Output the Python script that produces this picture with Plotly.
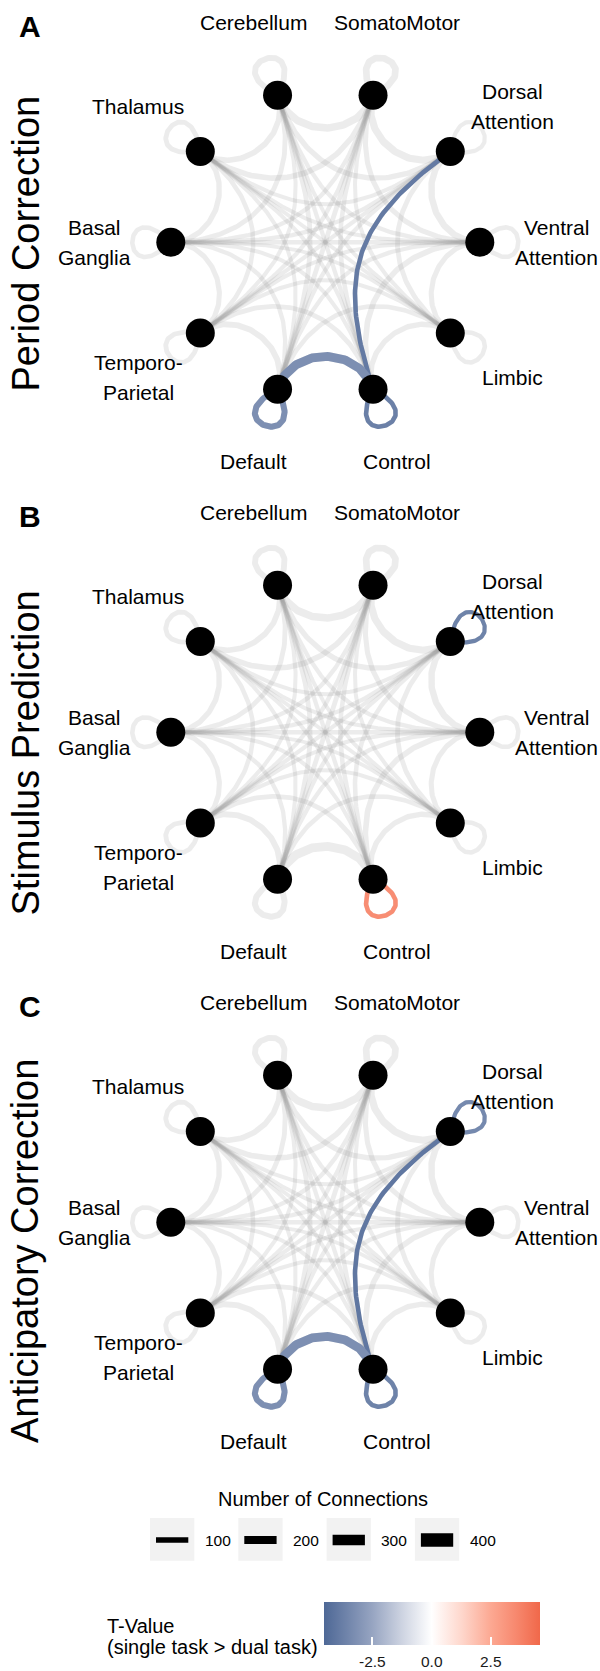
import numpy as np
import plotly.graph_objects as go
from plotly.colors import sample_colorscale

# ---------------- data ----------------
NODE_KEYS = ["Ventral", "Dorsal", "SomatoMotor", "Cerebellum", "Thalamus",
             "Basal", "Temporo", "Default", "Control", "Limbic"]
NODE_LABELS = ["Ventral\nAttention", "Dorsal\nAttention", "SomatoMotor", "Cerebellum", "Thalamus",
               "Basal\nGanglia", "Temporo-\nParietal", "Default", "Control", "Limbic"]

# background network: number of connections between networks
EDGE_FROM = ["Ventral", "Ventral", "Ventral", "Ventral", "Ventral", "Ventral", "Ventral", "Ventral", "Ventral",
             "Dorsal", "Dorsal", "Dorsal", "Dorsal", "Dorsal", "Dorsal", "Dorsal", "Dorsal",
             "SomatoMotor", "SomatoMotor", "SomatoMotor", "SomatoMotor", "SomatoMotor", "SomatoMotor", "SomatoMotor",
             "Cerebellum", "Cerebellum", "Cerebellum", "Cerebellum", "Cerebellum", "Cerebellum",
             "Thalamus", "Thalamus", "Thalamus", "Thalamus", "Thalamus",
             "Basal", "Basal", "Basal", "Basal",
             "Temporo", "Temporo", "Temporo",
             "Default", "Default",
             "Control"]
EDGE_TO = ["Dorsal", "SomatoMotor", "Cerebellum", "Thalamus", "Basal", "Temporo", "Default", "Control", "Limbic",
           "SomatoMotor", "Cerebellum", "Thalamus", "Basal", "Temporo", "Default", "Control", "Limbic",
           "Cerebellum", "Thalamus", "Basal", "Temporo", "Default", "Control", "Limbic",
           "Thalamus", "Basal", "Temporo", "Default", "Control", "Limbic",
           "Basal", "Temporo", "Default", "Control", "Limbic",
           "Temporo", "Default", "Control", "Limbic",
           "Default", "Control", "Limbic",
           "Control", "Limbic",
           "Limbic"]
EDGE_N = [140, 90, 60, 45, 70, 50, 60, 110, 90,
          170, 100, 50, 60, 55, 60, 70, 80,
          180, 110, 60, 60, 80, 70, 50,
          110, 80, 50, 80, 60, 45,
          100, 70, 50, 50, 40,
          90, 60, 50, 40,
          120, 80, 50,
          230, 70,
          100]
LOOP_N = [70, 55, 150, 120, 80, 70, 80, 125, 70, 70]

PANEL_TAGS = ["A", "B", "C"]
PANEL_TITLES = ["Period Correction", "Stimulus Prediction", "Anticipatory Correction"]

# significant edges (T-value: single task > dual task)
SIG_FROM = [["Dorsal", "Default", "Default", "Control"],
            ["Dorsal", "Control"],
            ["Dorsal", "Default", "Default", "Control", "Dorsal"]]
SIG_TO = [["Control", "Control", "Default", "Control"],
          ["Dorsal", "Control"],
          ["Control", "Control", "Default", "Control", "Dorsal"]]
SIG_T = [[-3.9, -3.2, -3.2, -3.7],
         [-3.6, 3.4],
         [-4.0, -3.2, -3.2, -3.6, -3.4]]

WIDTH_BREAKS = [100, 200, 300, 400]
T_TICKS = [-2.5, 0.0, 2.5]
T_TICK_TEXT = ["-2.5", "0.0", "2.5"]
T_MIN, T_MAX = -4.52, 4.56

# ---------------- style / geometry ----------------
W, H = 600, 1671
PANEL_H = 490
CX, CY = 325.3, 242.2       # circle centre inside each panel (px)
RPX = 154.5                 # circle radius (px) = 1 data unit
LABEL_R = 231 / RPX
LOOP_L = 0.47
FONT = "Liberation Sans, Arial, Helvetica, sans-serif"
GREY = "rgba(150,150,150,0.18)"
COLORSCALE = [[0.0, "rgb(78,104,150)"], [0.11, "rgb(113,133,171)"], [0.222, "rgb(150,164,193)"],
              [0.36, "rgb(205,211,225)"], [0.498, "rgb(255,255,255)"], [0.64, "rgb(254,214,203)"],
              [0.773, "rgb(252,168,146)"], [0.89, "rgb(247,136,110)"], [1.0, "rgb(240,104,74)"]]


def width_of(n):
    return 2.7 + 0.0265 * n


def unit(i):
    a = np.deg2rad(36.0 * i)
    return np.array([np.cos(a), np.sin(a)])


def bezier(p0, c1, c2, p3, n=80):
    t = np.linspace(0, 1, n)[:, None]
    return (1 - t) ** 3 * p0 + 3 * (1 - t) ** 2 * t * c1 + 3 * (1 - t) * t ** 2 * c2 + t ** 3 * p3


def edge_path(a, b):
    i, j = NODE_KEYS.index(a), NODE_KEYS.index(b)
    if i == j:
        p = unit(i)
        phi = np.deg2rad(36.0 * i)
        c1 = p + LOOP_L * np.array([np.cos(phi - np.pi / 4), np.sin(phi - np.pi / 4)])
        c2 = p + LOOP_L * np.array([np.cos(phi + np.pi / 4), np.sin(phi + np.pi / 4)])
        return bezier(p, c1, c2, p)
    p0, p3 = unit(i), unit(j)
    k = 0.48 * np.linalg.norm(p0 - p3)
    return bezier(p0, p0 * (1 - k), p3 * (1 - k), p3)


def t_color(t):
    return sample_colorscale(COLORSCALE, [(t - T_MIN) / (T_MAX - T_MIN)])[0]


fig = go.Figure()
annotations = []
shapes = []

for p in range(3):
    s = "" if p == 0 else str(p + 1)
    xr, yr = "x" + s, "y" + s
    # grey network
    for a, b, n in zip(EDGE_FROM, EDGE_TO, EDGE_N):
        pts = edge_path(a, b)
        fig.add_trace(go.Scatter(x=pts[:, 0], y=pts[:, 1], mode="lines", xaxis=xr, yaxis=yr,
                                 line=dict(color=GREY, width=width_of(n)), hoverinfo="skip", showlegend=False))
    for key, n in zip(NODE_KEYS, LOOP_N):
        pts = edge_path(key, key)
        fig.add_trace(go.Scatter(x=pts[:, 0], y=pts[:, 1], mode="lines", xaxis=xr, yaxis=yr,
                                 line=dict(color=GREY, width=width_of(n)), hoverinfo="skip", showlegend=False))
    # significant edges
    for a, b, t in zip(SIG_FROM[p], SIG_TO[p], SIG_T[p]):
        if a == b:
            n = LOOP_N[NODE_KEYS.index(a)]
        else:
            n = [nn for f, tt, nn in zip(EDGE_FROM, EDGE_TO, EDGE_N) if {f, tt} == {a, b}][0]
        pts = edge_path(a, b)
        fig.add_trace(go.Scatter(x=pts[:, 0], y=pts[:, 1], mode="lines", xaxis=xr, yaxis=yr,
                                 line=dict(color=t_color(t), width=width_of(n)), hoverinfo="skip",
                                 showlegend=False))
    # nodes
    xy = np.array([unit(i) for i in range(len(NODE_KEYS))])
    fig.add_trace(go.Scatter(x=xy[:, 0], y=xy[:, 1], mode="markers", xaxis=xr, yaxis=yr,
                             marker=dict(size=29, color="black"), hoverinfo="skip", showlegend=False))
    # node labels
    for i, lab in enumerate(NODE_LABELS):
        u = unit(i) * LABEL_R
        lines = lab.split("\n")
        for li, txt in enumerate(lines):
            shift = (len(lines) - 1) * 15 - li * 30
            annotations.append(dict(x=u[0], y=u[1], xref=xr, yref=yr, text=txt, showarrow=False,
                                    xanchor="center", yanchor="middle", yshift=shift,
                                    font=dict(family=FONT, size=21, color="black")))
    # axes
    top_px, bot_px = PANEL_H * p, PANEL_H * (p + 1)
    fig.layout["xaxis" + s] = dict(domain=[0, 1], range=[-CX / RPX, (W - CX) / RPX], visible=False,
                                   anchor=yr, fixedrange=True)
    fig.layout["yaxis" + s] = dict(domain=[1 - bot_px / H, 1 - top_px / H],
                                   range=[-(PANEL_H - CY) / RPX, CY / RPX], visible=False,
                                   anchor=xr, fixedrange=True)
    # tag
    annotations.append(dict(x=30 / W, y=1 - (26 + PANEL_H * p) / H, xref="paper", yref="paper",
                            text="<b>%s</b>" % PANEL_TAGS[p], showarrow=False, xanchor="center",
                            yanchor="middle", font=dict(family=FONT, size=30, color="black")))

TITLE_Y = [243.5, 753.5, 1251.0]
for p in range(3):
    annotations.append(dict(x=25 / W, y=1 - TITLE_Y[p] / H, xref="paper", yref="paper",
                            text=PANEL_TITLES[p], textangle=-90, showarrow=False, xanchor="center",
                            yanchor="middle", font=dict(family=FONT, size=38, color="black")))

# width legend
annotations.append(dict(x=323 / W, y=1 - 1499 / H, xref="paper", yref="paper", text="Number of Connections",
                        showarrow=False, xanchor="center", yanchor="middle",
                        font=dict(family=FONT, size=20, color="black")))
KEY_X0, KEY_STEP, KEY_W = 150.0, 88.3, 44.3
KEY_Y0, KEY_Y1, KEY_YC = 1518.0, 1560.7, 1540.0
for k, v in enumerate(WIDTH_BREAKS):
    x0 = KEY_X0 + k * KEY_STEP
    shapes.append(dict(type="rect", xref="paper", yref="paper", x0=x0 / W, x1=(x0 + KEY_W) / W,
                       y0=1 - KEY_Y1 / H, y1=1 - KEY_Y0 / H, fillcolor="#f2f2f2", line=dict(width=0),
                       layer="below"))
    shapes.append(dict(type="line", xref="paper", yref="paper", x0=(x0 + 6) / W, x1=(x0 + KEY_W - 6) / W,
                       y0=1 - KEY_YC / H, y1=1 - KEY_YC / H, line=dict(color="black", width=width_of(v))))
    annotations.append(dict(x=(x0 + KEY_W + 23.5) / W, y=1 - KEY_YC / H, xref="paper", yref="paper",
                            text=str(v), showarrow=False, xanchor="center", yanchor="middle",
                            font=dict(family=FONT, size=15.5, color="black")))

# colour bar (bar drawn by plotly; tick labels placed as annotations so the bar box fits the page)
BAR_X0, BAR_X1, BAR_Y0, BAR_Y1 = 324.0, 540.0, 1602.3, 1645.7
cbar = dict(orientation="h", x=(BAR_X0 + BAR_X1) / 2 / W, xanchor="center",
            y=1 - BAR_Y0 / H, yanchor="top", len=BAR_X1 - BAR_X0,
            lenmode="pixels", thickness=BAR_Y1 - BAR_Y0,
            thicknessmode="pixels", outlinewidth=0, xpad=0, ypad=0,
            tickvals=T_TICKS, ticktext=T_TICK_TEXT, ticks="inside", showticklabels=False,
            ticklen=8, tickwidth=1.5, tickcolor="white",
            title=dict(text="", side="right"))
fig.add_trace(go.Scatter(x=[None], y=[None], mode="markers", showlegend=False, hoverinfo="skip",
                         marker=dict(color=[0], colorscale=COLORSCALE, cmin=T_MIN, cmax=T_MAX,
                                     showscale=True, colorbar=cbar)))
for v, txt in zip(T_TICKS, T_TICK_TEXT):
    xv = BAR_X0 + (v - T_MIN) / (T_MAX - T_MIN) * (BAR_X1 - BAR_X0)
    shapes.append(dict(type="line", xref="paper", yref="paper", x0=xv / W, x1=xv / W,
                       y0=1 - BAR_Y0 / H, y1=1 - (BAR_Y0 + 8) / H, line=dict(color="white", width=1.5)))
    annotations.append(dict(x=xv / W, y=1 - 1661.5 / H, xref="paper", yref="paper", text=txt,
                            showarrow=False, xanchor="center", yanchor="middle",
                            font=dict(family=FONT, size=15.5, color="#1a1a1a")))
annotations.append(dict(x=105 / W, y=1 - 1625.5 / H, xref="paper", yref="paper", text="T-Value",
                        showarrow=False, xanchor="left", yanchor="middle",
                        font=dict(family=FONT, size=20, color="black")))
annotations.append(dict(x=105 / W, y=1 - 1647.3 / H, xref="paper", yref="paper",
                        text="(single task &gt; dual task)", showarrow=False, xanchor="left", yanchor="middle",
                        font=dict(family=FONT, size=20, color="black")))

fig.update_layout(width=W, height=H, margin=dict(l=0, r=0, t=0, b=0, autoexpand=False),
                  paper_bgcolor="white", plot_bgcolor="white", showlegend=False,
                  annotations=annotations, shapes=shapes)
fig.write_html("out.html", config={"displayModeBar": False},
               post_script="document.body.style.margin='0px';document.body.style.overflow='hidden';")
